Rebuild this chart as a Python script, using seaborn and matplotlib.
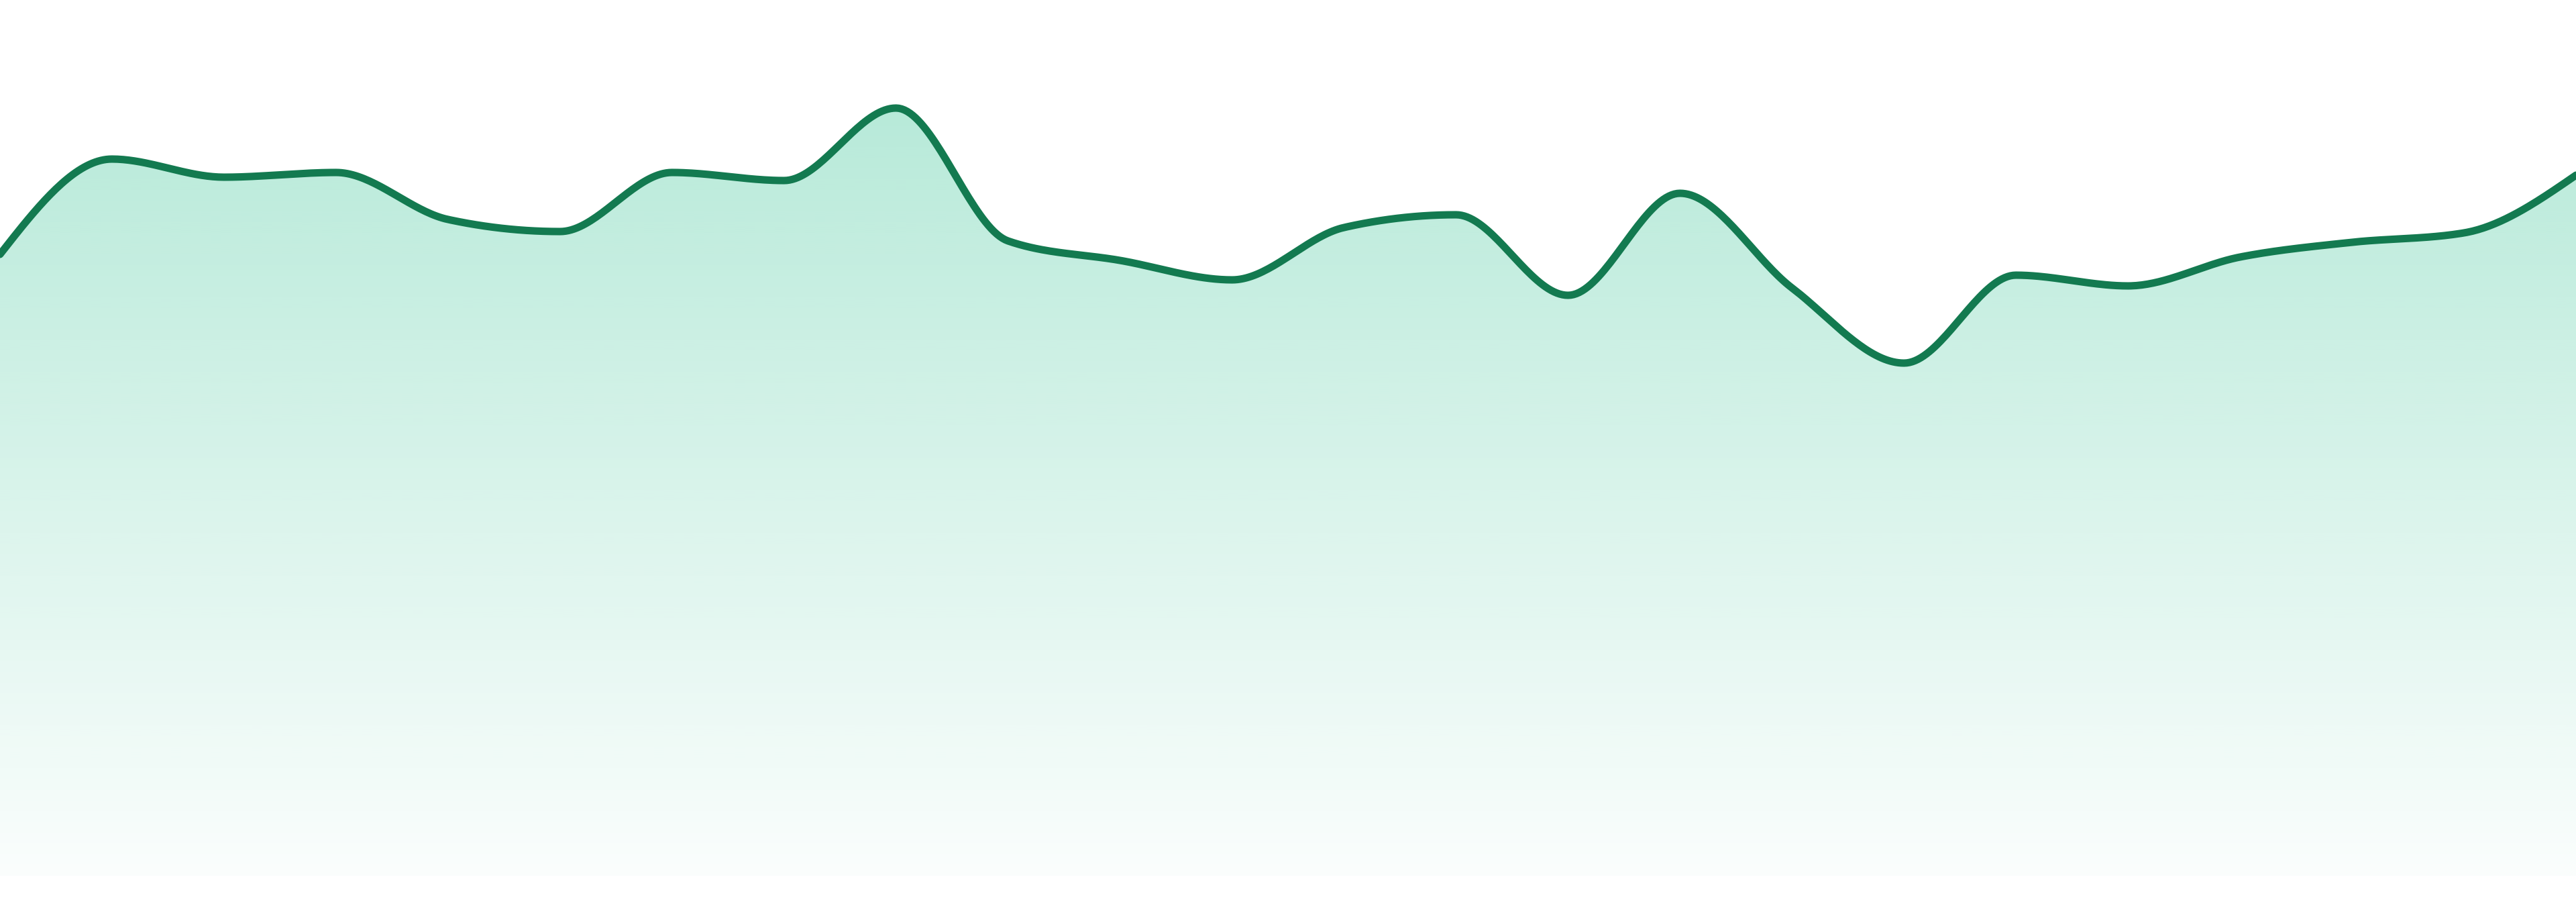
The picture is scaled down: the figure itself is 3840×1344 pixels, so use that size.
import numpy as np
import pandas as pd
import matplotlib.pyplot as plt
import seaborn as sns

# data (24 evenly spaced samples)
step = list(range(24))
value = [92.6, 106.8, 104.1, 104.8, 97.8, 96.0, 104.8, 103.6, 114.4, 94.6,
         91.7, 88.8, 96.6, 98.5, 86.5, 101.7, 87.6, 76.4, 89.5, 87.9,
         92.2, 94.4, 95.8, 104.4]

line_color = "#137a50"
fill_rgb = np.array([16, 185, 129]) / 255.0


# monotone cubic curve through the points (same idea as d3 curveMonotoneX)
def monotone_curve(x, y, n=40):
    x = np.asarray(x, float)
    y = np.asarray(y, float)
    h = np.diff(x)
    s = np.diff(y) / h
    m = np.zeros_like(y)
    for i in range(1, len(y) - 1):
        p = (s[i - 1] * h[i] + s[i] * h[i - 1]) / (h[i - 1] + h[i])
        m[i] = (np.sign(s[i - 1]) + np.sign(s[i])) * min(abs(s[i - 1]), abs(s[i]), 0.5 * abs(p))
    m[0] = (3 * s[0] - m[1]) / 2
    m[-1] = (3 * s[-1] - m[-2]) / 2
    xs, ys = [], []
    for i in range(len(h)):
        t = np.linspace(0, 1, n, endpoint=False)
        h00 = 2 * t**3 - 3 * t**2 + 1
        h10 = t**3 - 2 * t**2 + t
        h01 = -2 * t**3 + 3 * t**2
        h11 = t**3 - t**2
        xs.append(x[i] + t * h[i])
        ys.append(h00 * y[i] + h10 * h[i] * m[i] + h01 * y[i + 1] + h11 * h[i] * m[i + 1])
    xs.append([x[-1]])
    ys.append([y[-1]])
    return np.concatenate(xs), np.concatenate(ys)


cx, cy = monotone_curve(step, value)
curve = pd.DataFrame({"step": cx, "value": cy})

sns.set_style("white")
fig = plt.figure(figsize=(38.4, 13.44), dpi=100)
ax = fig.add_axes([0, 39 / 1344, 1, 1 - 39 / 1344])
ax.set_xlim(0, 23)
ax.set_ylim(0, 130.5)

# gradient fill under the curve
poly = ax.fill_between(cx, cy, 0, color="none", lw=0)
top = max(value)
alpha = np.linspace(0.02, 0.30, 256)[:, None]
grad = np.zeros((256, 1, 4))
grad[..., :3] = fill_rgb
grad[..., 3] = alpha
im = ax.imshow(grad, extent=[0, 23, 0, top], origin="lower", aspect="auto",
               interpolation="bilinear", zorder=1)
im.set_clip_path(poly.get_paths()[0], transform=ax.transData)

sns.lineplot(data=curve, x="step", y="value", color=line_color, lw=8, ax=ax,
             zorder=3, sort=False)

ax.set_xlim(0, 23)
ax.set_ylim(0, 130.5)
ax.axis("off")
fig.savefig("out.png", dpi=100, facecolor="white")
